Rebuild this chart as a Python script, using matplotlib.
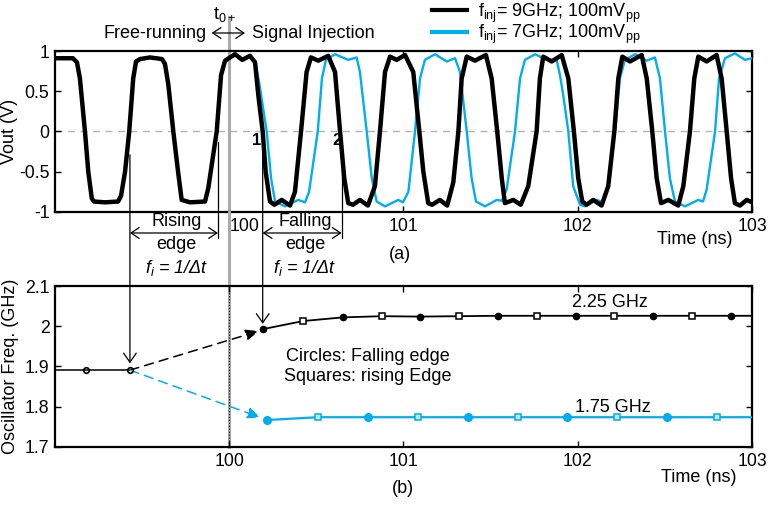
import numpy as np
import matplotlib
matplotlib.use('Agg')
import matplotlib.pyplot as plt
from matplotlib.lines import Line2D

plt.rcParams['font.family'] = 'Liberation Sans'
plt.rcParams['mathtext.fontset'] = 'custom'
plt.rcParams['mathtext.rm'] = 'Liberation Sans'
plt.rcParams['mathtext.it'] = 'Liberation Sans:italic'
plt.rcParams['font.size'] = 13

BLUE = '#00AEEF'

# --- (a) output waveforms ---
t9 = [99.000, 99.103, 99.126, 99.143, 99.172, 99.191, 99.211, 99.224, 99.287, 99.362,
      99.379, 99.402, 99.426, 99.449, 99.465, 99.488, 99.545, 99.614, 99.631, 99.650,
      99.679, 99.708, 99.727, 99.775, 99.861, 99.880, 99.928, 99.953, 99.976, 100.033,
      100.075, 100.119, 100.148, 100.167, 100.192, 100.209, 100.234, 100.259, 100.301, 100.349,
      100.377, 100.412, 100.444, 100.469, 100.511, 100.568, 100.607, 100.636, 100.660, 100.683,
      100.710, 100.750, 100.796, 100.836, 100.865, 100.894, 100.923, 100.961, 101.009, 101.056,
      101.091, 101.114, 101.142, 101.164, 101.209, 101.251, 101.286, 101.315, 101.334, 101.363,
      101.410, 101.473, 101.506, 101.538, 101.564, 101.582, 101.630, 101.673, 101.716, 101.764,
      101.783, 101.802, 101.851, 101.908, 101.946, 101.978, 102.003, 102.026, 102.051, 102.089,
      102.137, 102.175, 102.210, 102.233, 102.256, 102.300, 102.367, 102.396, 102.428, 102.453,
      102.478, 102.520, 102.577, 102.606, 102.644, 102.669, 102.692, 102.740, 102.797, 102.826,
      102.855, 102.880, 102.902, 102.931, 102.970, 103.000]
v9 = [0.91, 0.91, 0.86, 0.66, 0.0, -0.50, -0.83, -0.87, -0.88, -0.87,
      -0.80, -0.50, 0.0, 0.66, 0.87, 0.90, 0.92, 0.90, 0.84, 0.59,
      0.0, -0.53, -0.85, -0.88, -0.87, -0.70, 0.0, 0.70, 0.88, 0.96,
      0.89, 0.94, 0.86, 0.45, 0.0, -0.50, -0.87, -0.91, -0.85, -0.92,
      -0.75, 0.0, 0.74, 0.92, 0.88, 0.94, 0.74, 0.0, -0.58, -0.89,
      -0.91, -0.85, -0.92, -0.68, 0.0, 0.74, 0.93, 0.89, 0.95, 0.74,
      0.0, -0.50, -0.89, -0.91, -0.85, -0.92, -0.63, 0.0, 0.66, 0.93,
      0.88, 0.95, 0.66, 0.0, -0.58, -0.89, -0.85, -0.91, -0.68, 0.0,
      0.66, 0.93, 0.87, 0.95, 0.66, 0.0, -0.58, -0.87, -0.91, -0.85,
      -0.92, -0.68, 0.0, 0.66, 0.93, 0.87, 0.95, 0.66, 0.0, -0.58,
      -0.89, -0.85, -0.92, -0.68, 0.0, 0.66, 0.93, 0.87, 0.95, 0.66,
      0.0, -0.58, -0.89, -0.92, -0.85, -0.88]

t7 = [99.928, 99.953, 99.976, 100.033, 100.075, 100.119, 100.148, 100.171, 100.215, 100.240,
      100.263, 100.320, 100.396, 100.435, 100.458, 100.508, 100.532, 100.555, 100.607, 100.683,
      100.731, 100.750, 100.789, 100.818, 100.846, 100.894, 100.970, 100.997, 101.028, 101.066,
      101.095, 101.123, 101.181, 101.248, 101.296, 101.324, 101.363, 101.391, 101.416, 101.468,
      101.535, 101.565, 101.592, 101.640, 101.669, 101.697, 101.755, 101.822, 101.879, 101.898,
      101.917, 101.946, 101.974, 102.013, 102.042, 102.109, 102.147, 102.175, 102.214, 102.242,
      102.271, 102.329, 102.396, 102.443, 102.472, 102.501, 102.529, 102.558, 102.616, 102.692,
      102.719, 102.740, 102.788, 102.811, 102.845, 102.902, 102.960, 103.000]
v7 = [0.0, 0.70, 0.88, 0.96, 0.89, 0.94, 0.88, 0.62, 0.0, -0.58,
      -0.87, -0.93, -0.85, -0.88, -0.75, 0.0, 0.66, 0.89, 0.96, 0.89,
      0.92, 0.74, 0.0, -0.58, -0.87, -0.93, -0.85, -0.88, -0.75, 0.0,
      0.66, 0.89, 0.96, 0.87, 0.91, 0.74, 0.0, -0.58, -0.87, -0.93,
      -0.85, -0.86, -0.72, 0.0, 0.66, 0.89, 0.96, 0.89, 0.89, 0.70,
      0.45, 0.0, -0.68, -0.91, -0.93, -0.85, -0.88, -0.68, 0.0, 0.66,
      0.89, 0.96, 0.88, 0.92, 0.66, 0.0, -0.58, -0.87, -0.93, -0.85,
      -0.87, -0.72, 0.0, 0.66, 0.91, 0.97, 0.89, 0.91]

# --- (b) oscillator frequency per edge ---
free_t = [99.0, 99.178, 99.430]
free_f = [1.891, 1.891, 1.891]

c9_t = [100.195, 100.651, 101.095, 101.540, 101.988, 102.434, 102.878]
c9_f = [1.993, 2.022, 2.024, 2.026, 2.026, 2.026, 2.026]
s9_t = [100.425, 100.875, 101.320, 101.764, 102.210, 102.654]
s9_f = [2.013, 2.025, 2.025, 2.026, 2.026, 2.026]
end9 = (103.0, 2.026)

c7_t = [100.215, 100.798, 101.368, 101.940, 102.510]
c7_f = [1.767, 1.774, 1.774, 1.774, 1.774]
s7_t = [100.511, 101.085, 101.655, 102.227, 102.797]
s7_f = [1.774, 1.774, 1.774, 1.774, 1.774]
end7 = (103.0, 1.774)

xticks = [100, 101, 102, 103]
yticks_a = [-1, -0.5, 0, 0.5, 1]
yticks_b = [1.7, 1.8, 1.9, 2.0, 2.1]


def merged(ct, cf, st, sf, end):
    t = np.array(ct + st + [end[0]])
    f = np.array(cf + sf + [end[1]])
    o = np.argsort(t)
    return t[o], f[o]


fig = plt.figure(figsize=(7.79, 5.08), dpi=100)
ax1 = fig.add_axes([0.0706, 0.5827, 0.8947, 0.3169])
ax2 = fig.add_axes([0.0706, 0.1201, 0.8947, 0.3169])

for ax in (ax1, ax2):
    ax.set_xlim(99, 103)
    ax.set_xticks(xticks)
    ax.set_xticklabels([str(x) for x in xticks])
    ax.tick_params(direction='in', top=True, right=True, length=4, width=1,
                   labelsize=12.7, pad=4)
    for s in ax.spines.values():
        s.set_linewidth(1.6)
    ax.set_facecolor('none')

# (a)
ax1.set_ylim(-1, 1)
ax1.set_yticks(yticks_a)
ax1.set_yticklabels(['-1', '-0.5', '0', '0.5', '1'])
ax1.get_xticklabels()[0].set_horizontalalignment('left')
ax1.axhline(0, color='#b4b4b4', lw=1, ls=(0, (5, 4)), zorder=1)
ax1.axvline(100, ymin=0, ymax=1.211, color='#aaaaaa', lw=2.2, clip_on=False, zorder=2)
ax1.plot(t7, v7, color=BLUE, lw=1.7, zorder=3, solid_joinstyle='round')
ax1.plot(t9, v9, color='k', lw=3.2, zorder=4, solid_joinstyle='round')
ax1.set_ylabel('Vout (V)')
ax1.yaxis.set_label_coords(-0.053, 0.5)

ax1.text(100.158, -0.106, '1', fontsize=12, fontweight='bold', ha='center', va='center', zorder=5)
ax1.text(100.620, -0.106, '2', fontsize=12, fontweight='bold', ha='center', va='center', zorder=5)
ax1.text(102.891, -1.348, 'Time (ns)', ha='right', va='center')
ax1.text(100.98, -1.534, '(a)', ha='center', va='center')

# edge measurement marks
lk = dict(color='k', lw=0.9, clip_on=False, zorder=5)
ax1.plot([99.935, 99.935], [-0.13, -1.32], **lk)
ax1.plot([100.645, 100.645], [-0.17, -1.32], **lk)
dbl = dict(arrowstyle='<->,head_length=0.45,head_width=0.3', lw=0.9, color='k',
           shrinkA=0, shrinkB=0, mutation_scale=13)
ax1.annotate('', xy=(99.43, -1.261), xytext=(99.935, -1.261), arrowprops=dbl,
             annotation_clip=False)
ax1.annotate('', xy=(100.192, -1.261), xytext=(100.645, -1.261), arrowprops=dbl,
             annotation_clip=False)
for tx, word in [(99.698, 'Rising'), (100.435, 'Falling')]:
    ax1.text(tx, -1.12, word, ha='center', va='center')
    ax1.text(tx, -1.41, 'edge', ha='center', va='center')
    ax1.text(tx, -1.696, r'$f_i$ = 1/Δt', ha='center', va='center', style='italic')

# (b)
ax2.set_ylim(1.7, 2.1)
ax2.set_yticks(yticks_b)
ax2.set_yticklabels(['1.7', '1.8', '1.9', '2', '2.1'])
ax2.axvline(100, ymin=0, ymax=1.46, color='#aaaaaa', lw=2.2, clip_on=False, zorder=1)
ax2.axvline(100, color='k', lw=0.8, ls=':', zorder=2)

ax2.plot(free_t, free_f, color='k', lw=1.1, zorder=3)
ax2.plot(free_t[1:], free_f[1:], 'o', color='k', ms=4, mfc='none', mew=1.2, zorder=4)

lt, lf = merged(c9_t, c9_f, s9_t, s9_f, end9)
ax2.plot(lt, lf, color='k', lw=1.3, zorder=3)
ax2.plot(c9_t, c9_f, 'o', color='k', ms=4.5, zorder=4)
ax2.plot(s9_t, s9_f, 's', color='k', ms=4, mfc='white', mew=1.1, zorder=4)

lt, lf = merged(c7_t, c7_f, s7_t, s7_f, end7)
ax2.plot(lt, lf, color=BLUE, lw=1.6, zorder=3)
ax2.plot(c7_t, c7_f, 'o', color=BLUE, ms=5.5, zorder=4)
ax2.plot(s7_t, s7_f, 's', color=BLUE, ms=4.5, mfc='#bfe9fa', mew=1.1, zorder=4)

tri = '-|>,head_length=0.6,head_width=0.25'
ax2.annotate('', xy=(100.17, 1.988), xytext=(free_t[-1], free_f[-1]),
             arrowprops=dict(arrowstyle=tri, color='k', lw=1.1, ls=(0, (6, 4)),
                             shrinkA=0, shrinkB=0, mutation_scale=13))
ax2.annotate('', xy=(100.18, 1.773), xytext=(free_t[-1], free_f[-1]),
             arrowprops=dict(arrowstyle=tri, color=BLUE, lw=1.1, ls=(0, (6, 4)),
                             shrinkA=0, shrinkB=0, mutation_scale=13))

down = dict(arrowstyle='->,head_length=0.5,head_width=0.35', lw=0.9, color='k',
            shrinkA=0, shrinkB=0, mutation_scale=13)
ax2.annotate('', xy=(99.43, 1.908), xytext=(99.43, -0.29), textcoords=ax1.transData,
             arrowprops=down)
ax2.annotate('', xy=(100.192, 2.006), xytext=(100.192, -0.17), textcoords=ax1.transData,
             arrowprops=down)

ax2.text(102.185, 2.058, '2.25 GHz', ha='center', va='center')
ax2.text(102.202, 1.799, '1.75 GHz', ha='center', va='center')
ax2.text(100.796, 1.926, 'Circles: Falling edge', ha='center', va='center')
ax2.text(100.796, 1.874, 'Squares: rising Edge', ha='center', va='center')
ax2.text(102.914, 1.623, 'Time (ns)', ha='right', va='center')
ax2.text(100.997, 1.598, '(b)', ha='center', va='center')
ax2.set_ylabel('Oscillator Freq. (GHz)')
ax2.yaxis.set_label_coords(-0.052, 0.5)

# header texts
fig.text(206.7 / 779, 1 - 33 / 508, 'Free-running', ha='right', va='center')
fig.text(251.7 / 779, 1 - 33 / 508, 'Signal Injection', ha='left', va='center')
fig.text(225 / 779, 1 - 14 / 508, r't$_{\mathregular{0+}}$', ha='center', va='center')
ax1.annotate('', xy=(211.7 / 779, 1 - 33 / 508), xytext=(245 / 779, 1 - 33 / 508),
             xycoords='figure fraction', textcoords='figure fraction',
             arrowprops=dict(arrowstyle='<->,head_length=0.45,head_width=0.3', lw=0.9,
                             color='k', shrinkA=0, shrinkB=0, mutation_scale=13))

handles = [Line2D([], [], color='k', lw=3), Line2D([], [], color=BLUE, lw=3)]
labels = [r'f$_{\mathregular{inj}}$= 9GHz; 100mV$_{\mathregular{pp}}$',
          r'f$_{\mathregular{inj}}$= 7GHz; 100mV$_{\mathregular{pp}}$']
fig.legend(handles, labels, loc='upper left', bbox_to_anchor=(0.554, 0.997),
           frameon=False, borderpad=0, borderaxespad=0, handlelength=1.95,
           handletextpad=0.6, labelspacing=-0.1, fontsize=13)

fig.savefig('out.png', dpi=100)
